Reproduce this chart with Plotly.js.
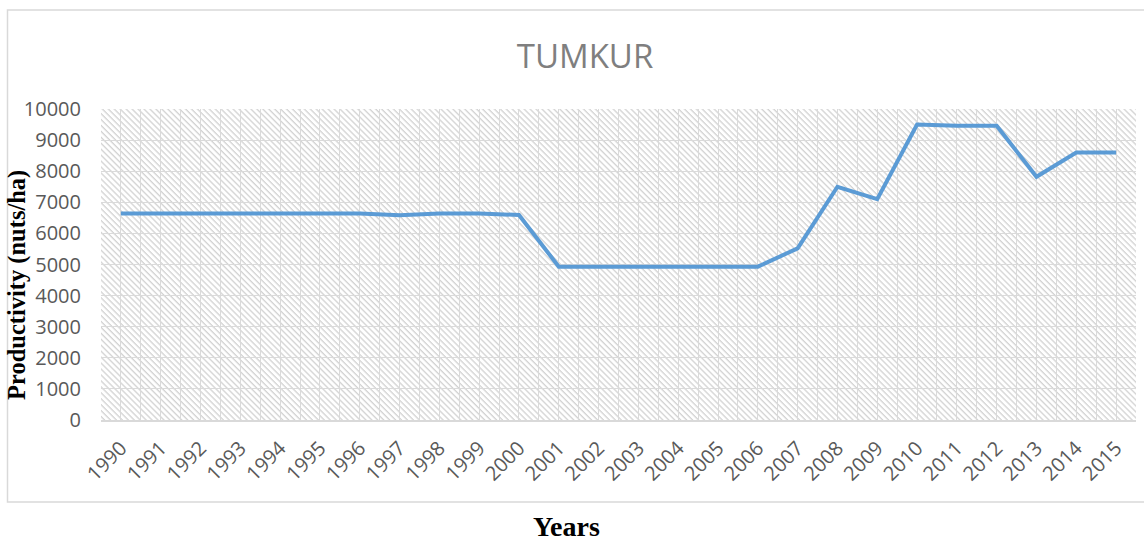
<!DOCTYPE html>
<html>
<head>
<meta charset="utf-8">
<script src="https://cdn.plot.ly/plotly-3.0.1.min.js"></script>
<style>
  html, body { margin: 0; padding: 0; background: #ffffff; }
  #chart { width: 1144px; height: 544px; }
</style>
</head>
<body>
<div id="chart"></div>
<script>
// ---- data ----
const years = [1990, 1991, 1992, 1993, 1994, 1995, 1996, 1997, 1998, 1999, 2000, 2001, 2002,
               2003, 2004, 2005, 2006, 2007, 2008, 2009, 2010, 2011, 2012, 2013, 2014, 2015];
const productivity = [6640, 6640, 6640, 6640, 6640, 6640, 6640, 6580, 6640, 6640, 6590, 4930, 4930,
                      4930, 4930, 4930, 4930, 5520, 7500, 7100, 9500, 9460, 9460, 7820, 8600, 8600];
const yearLabels = years.map(String);
const yTicks = [0, 1000, 2000, 3000, 4000, 5000, 6000, 7000, 8000, 9000, 10000];
const chartTitle = "TUMKUR";
const xTitle = "Years";
const yTitle = "Productivity (nuts/ha)";

// ---- hatched plot-area background ----
const W = 1144, H = 544;
const M = { l: 101, r: 8, t: 109, b: 124 };
const pw = W - M.l - M.r, ph = H - M.t - M.b;
const hatchSvg =
  "<svg xmlns='http://www.w3.org/2000/svg' width='" + pw + "' height='" + ph + "' viewBox='0 0 " + pw + " " + ph + "' preserveAspectRatio='none'>" +
  "<defs><pattern id='p' width='4.2' height='10' patternUnits='userSpaceOnUse' patternTransform='rotate(-45)'>" +
  "<line x1='1' y1='0' x2='1' y2='10' stroke='#d2d2d2' stroke-width='1.3'/></pattern></defs>" +
  "<rect width='100%' height='100%' fill='#ffffff'/><rect width='100%' height='100%' fill='url(#p)'/></svg>";
const hatchUri = "data:image/svg+xml;charset=utf-8," + encodeURIComponent(hatchSvg);

const px2x = p => (p - M.l) / pw;
const px2y = p => (H - M.b - p) / ph;

const trace = {
  x: years,
  y: productivity,
  type: "scatter",
  mode: "lines",
  line: { color: "#5b9bd5", width: 4 },
  hoverinfo: "x+y",
  showlegend: false
};

const layout = {
  width: W,
  height: H,
  margin: M,
  paper_bgcolor: "#ffffff",
  plot_bgcolor: "rgba(0,0,0,0)",
  showlegend: false,
  title: {
    text: chartTitle,
    font: { family: "Open Sans, sans-serif", size: 33, color: "#7f7f7f" },
    x: 585 / W, xref: "container", xanchor: "center",
    y: 1 - 56 / H, yref: "container", yanchor: "middle"
  },
  xaxis: {
    type: "linear",
    range: [years[0] - 0.5, years[years.length - 1] + 0.5],
    tickmode: "array",
    tickvals: years,
    ticktext: yearLabels,
    tickangle: -45,
    tickfont: { family: "Open Sans, sans-serif", size: 20, color: "#595959" },
    ticks: "",
    ticklabelstandoff: 7,
    showgrid: false,
    minor: { tickmode: "linear", tick0: years[0] - 0.5, dtick: 0.5, showgrid: true, gridcolor: "#dadada", gridwidth: 1, ticks: "" },
    showline: true,
    linecolor: "#d9d9d9",
    linewidth: 1.5,
    zeroline: false,
    fixedrange: true
  },
  yaxis: {
    range: [0, 10000],
    tickmode: "array",
    tickvals: yTicks,
    ticktext: yTicks.map(String),
    tickfont: { family: "Open Sans, sans-serif", size: 20, color: "#595959" },
    ticks: "",
    ticklabelstandoff: 19,
    showgrid: true,
    gridcolor: "#dadada",
    gridwidth: 1,
    showline: false,
    zeroline: false,
    fixedrange: true
  },
  images: [{
    source: hatchUri,
    xref: "paper", yref: "paper",
    x: 0, y: 1, sizex: 1, sizey: 1,
    xanchor: "left", yanchor: "top",
    sizing: "stretch",
    layer: "below"
  }],
  shapes: [{
    type: "rect",
    xref: "paper", yref: "paper",
    x0: px2x(7.5), x1: px2x(1160),
    y0: px2y(502), y1: px2y(10),
    line: { color: "#d9d9d9", width: 1.5 },
    fillcolor: "rgba(0,0,0,0)",
    layer: "below"
  }],
  annotations: [
    {
      text: "<b>" + yTitle + "</b>",
      xref: "paper", yref: "paper",
      x: px2x(17), y: px2y(285),
      xanchor: "center", yanchor: "middle",
      textangle: -90,
      showarrow: false,
      font: { family: "Liberation Serif, Times New Roman, serif", size: 24.5, color: "#000000" }
    },
    {
      text: "<b>" + xTitle + "</b>",
      xref: "paper", yref: "paper",
      x: px2x(566), y: px2y(526),
      xanchor: "center", yanchor: "middle",
      showarrow: false,
      borderpad: 0,
      font: { family: "Liberation Serif, Times New Roman, serif", size: 28, color: "#000000" }
    }
  ]
};

Plotly.newPlot("chart", [trace], layout, { displayModeBar: false, staticPlot: true });
</script>
</body>
</html>
